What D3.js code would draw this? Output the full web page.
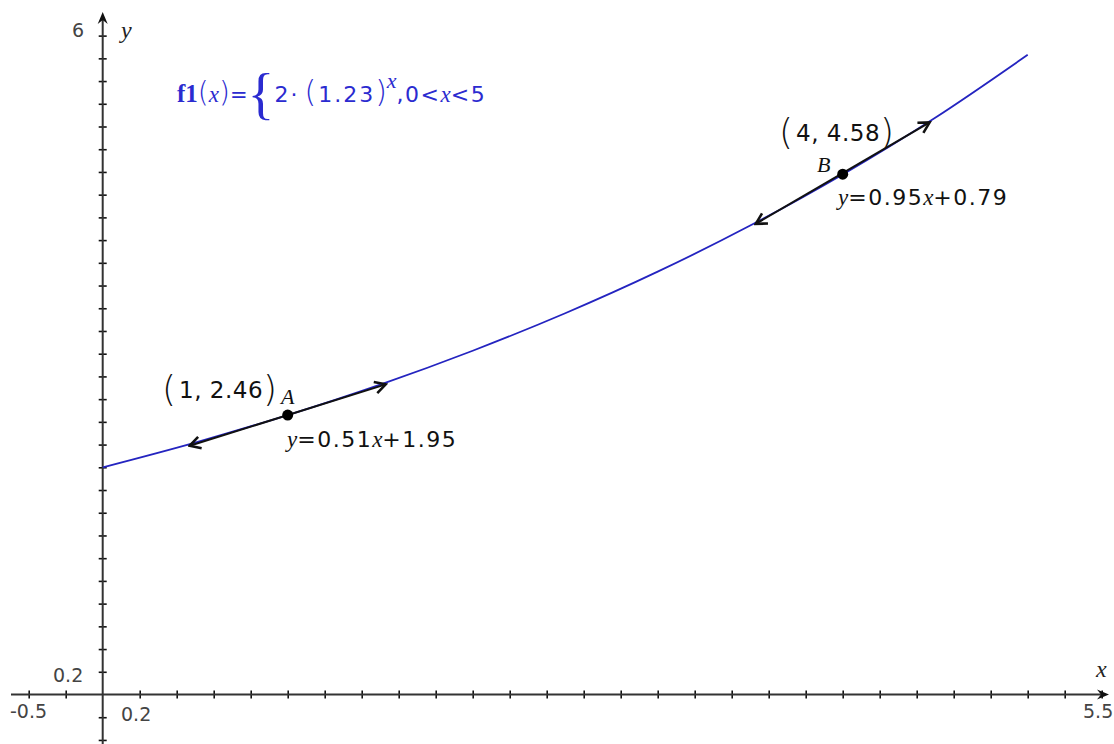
<!DOCTYPE html>
<html>
<head>
<meta charset="utf-8">
<script src="https://cdn.jsdelivr.net/npm/d3@7"></script>
<style>
  html, body { margin: 0; padding: 0; background: #fff; }
  svg { display: block; }
  .sans { font-family: "DejaVu Sans", sans-serif; }
  .serif { font-family: "Liberation Serif", "DejaVu Serif", serif; }
</style>
</head>
<body>
<svg id="chart" width="1114" height="744"></svg>
<script>
// ---------- data ----------
const xWindow = [-0.5, 5.5];
const yWindow = [0, 6];
const xTickLabels = ["-0.5", "0.2", "5.5"];
const yTickLabels = ["0.2", "6"];
const xTickValues = d3.range(-2, 28).map(i => +(i * 0.2).toFixed(1)).filter(v => v !== 0);
const yTickValues = d3.range(-2, 30).map(i => +(i * 0.2).toFixed(1)).filter(v => v !== 0);

// f1(x) = 2·(1.23)^x, 0<x<5
const curveX = [0, 0.5, 1, 1.5, 2, 2.5, 3, 3.5, 4, 4.5, 5];
const curveY = [2.000, 2.218, 2.460, 2.728, 3.026, 3.356, 3.722, 4.128, 4.578, 5.077, 5.631];

// tangent points
const pointNames = ["A", "B"];
const pointX = [1, 4];
const pointY = [2.46, 4.58];
const tangentSlope = [0.51, 0.95];
const tangentIntercept = [1.95, 0.79];
const tangentFrom = [0.47, 3.53];
const tangentTo = [1.53, 4.47];
const coordLabels = ["1, 2.46", "4, 4.58"];
const eqLabels = ["0.51x+1.95", "0.95x+0.79"];

// ---------- scales ----------
const svg = d3.select("#chart");
const x = d3.scaleLinear().domain(xWindow).range([10.2, 1120.2]);
const y = d3.scaleLinear().domain(yWindow).range([694.5, 12.9]);

const axisColor = "#333";
const blue = "#2424c0";
const textBlue = "#2b2bd0";

// ---------- axes ----------
const gx = svg.append("g").attr("transform", `translate(0,${y(0)})`)
  .call(d3.axisBottom(x).tickValues(xTickValues).tickSize(5).tickFormat(""));
gx.select(".domain").remove();
gx.selectAll(".tick line").attr("y1", -4).attr("y2", 4).attr("stroke", "#111").attr("stroke-width", 1.6);

const gy = svg.append("g").attr("transform", `translate(${x(0)},0)`)
  .call(d3.axisLeft(y).tickValues(yTickValues).tickSize(5).tickFormat(""));
gy.select(".domain").remove();
gy.selectAll(".tick line").attr("x1", -4).attr("x2", 4).attr("stroke", "#111").attr("stroke-width", 1.6);

// axis lines
svg.append("line").attr("x1", 11).attr("x2", 1104).attr("y1", y(0)).attr("y2", y(0))
  .attr("stroke", axisColor).attr("stroke-width", 2);
svg.append("line").attr("x1", x(0)).attr("x2", x(0)).attr("y1", 16).attr("y2", 744)
  .attr("stroke", axisColor).attr("stroke-width", 2);

// axis arrowheads
const ax0 = x(0), ay0 = y(0);
svg.append("path")
  .attr("d", `M${ax0},${12} L${ax0 + 5},${24} L${ax0},${20} L${ax0 - 5},${24} Z`)
  .attr("fill", "#111");
svg.append("path")
  .attr("d", `M${1109},${ay0} L${1097},${ay0 - 5} L${1101},${ay0} L${1097},${ay0 + 5} Z`)
  .attr("fill", "#111");

// axis labels
const lab = svg.append("g").attr("class", "sans").attr("fill", "#444").attr("font-size", 19);
lab.append("text").attr("x", 72).attr("y", 37).text(yTickLabels[1]);
lab.append("text").attr("x", 53).attr("y", 682).text(yTickLabels[0]);
lab.append("text").attr("x", 10).attr("y", 718).text(xTickLabels[0]);
lab.append("text").attr("x", 121).attr("y", 721).text(xTickLabels[1]);
lab.append("text").attr("x", 1083).attr("y", 718).text(xTickLabels[2]);
svg.append("text").attr("class", "serif").attr("font-style", "italic").attr("font-size", 24)
  .attr("fill", "#222").attr("x", 121).attr("y", 38).text("y");
svg.append("text").attr("class", "serif").attr("font-style", "italic").attr("font-size", 24)
  .attr("fill", "#222").attr("x", 1096).attr("y", 677).text("x");

// ---------- curve ----------
const curveData = curveX.map((v, i) => [v, curveY[i]]);
svg.append("path").datum(curveData)
  .attr("d", d3.line().x(d => x(d[0])).y(d => y(d[1])).curve(d3.curveMonotoneX))
  .attr("fill", "none").attr("stroke", blue).attr("stroke-width", 1.8);

// ---------- tangents ----------
const defs = svg.append("defs");
defs.append("marker").attr("id", "arr")
  .attr("viewBox", "0 0 14 14").attr("refX", 12).attr("refY", 7)
  .attr("markerWidth", 15).attr("markerHeight", 15).attr("markerUnits", "userSpaceOnUse")
  .attr("orient", "auto-start-reverse")
  .append("path").attr("d", "M2,1.5 L12,7 L2,12.5")
  .attr("fill", "none").attr("stroke", "#111").attr("stroke-width", 2.4)
  .attr("stroke-linejoin", "miter");

pointNames.forEach((name, i) => {
  const x1 = tangentFrom[i], x2 = tangentTo[i];
  const y1 = tangentSlope[i] * x1 + tangentIntercept[i];
  const y2 = tangentSlope[i] * x2 + tangentIntercept[i];
  svg.append("line")
    .attr("x1", x(x1)).attr("y1", y(y1)).attr("x2", x(x2)).attr("y2", y(y2))
    .attr("stroke", "#111").attr("stroke-width", 2)
    .attr("marker-start", "url(#arr)").attr("marker-end", "url(#arr)");
  svg.append("circle").attr("cx", x(pointX[i])).attr("cy", y(pointY[i])).attr("r", 5.5).attr("fill", "#000");
});

// ---------- labels ----------
const labelPos = [
  { cx: 162, cy: 398, nx: 281, ny: 404, ex: 287, ey: 447 },
  { cx: 779, cy: 141, nx: 817, ny: 172, ex: 838, ey: 205 }
];
pointNames.forEach((name, i) => {
  const p = labelPos[i];
  const t = svg.append("text").attr("class", "sans").attr("fill", "#111")
    .attr("x", p.cx).attr("y", p.cy);
  t.append("tspan").attr("font-size", 36).attr("font-weight", 200).attr("dy", 3).text("(");
  t.append("tspan").attr("font-size", 23).attr("letter-spacing", 0.5).attr("dy", -3).attr("dx", 3).text(coordLabels[i]);
  t.append("tspan").attr("font-size", 36).attr("font-weight", 200).attr("dy", 3).text(")");
  svg.append("text").attr("class", "serif").attr("font-style", "italic").attr("font-size", 22)
    .attr("fill", "#111").attr("x", p.nx).attr("y", p.ny).text(name);
  const e = svg.append("text").attr("fill", "#111").attr("x", p.ex).attr("y", p.ey).attr("font-size", 22);
  e.append("tspan").attr("class", "serif").attr("font-style", "italic").attr("font-size", 23).text("y");
  const parts = eqLabels[i].split("x");
  e.append("tspan").attr("class", "sans").attr("letter-spacing", 1.5).text("=" + parts[0]);
  e.append("tspan").attr("class", "serif").attr("font-style", "italic").attr("font-size", 23).text("x");
  e.append("tspan").attr("class", "sans").attr("letter-spacing", 1.5).text(parts[1]);
});

// ---------- formula ----------
const f = svg.append("text").attr("fill", textBlue).attr("x", 177).attr("y", 102).attr("font-size", 22);
f.append("tspan").attr("class", "serif").attr("font-weight", "bold").attr("font-size", 25).text("f1");
f.append("tspan").attr("class", "sans").attr("font-size", 28).attr("font-weight", 200).text("(");
f.append("tspan").attr("class", "serif").attr("font-style", "italic").attr("font-size", 23).text("x");
f.append("tspan").attr("class", "sans").attr("font-size", 28).attr("font-weight", 200).text(")");
f.append("tspan").attr("class", "sans").attr("font-size", 21).text("=");
f.append("tspan").attr("class", "serif").attr("font-size", 56).attr("dy", 11).text("{");
f.append("tspan").attr("class", "sans").attr("dy", -11).attr("letter-spacing", 2).text("2·");
f.append("tspan").attr("class", "sans").attr("dx", 5).attr("font-size", 30).attr("font-weight", 200).text("(");
f.append("tspan").attr("class", "sans").attr("letter-spacing", 2).attr("dx", 2).text("1.23");
f.append("tspan").attr("class", "sans").attr("font-size", 30).attr("font-weight", 200).text(")");
f.append("tspan").attr("class", "serif").attr("font-style", "italic").attr("font-size", 22).attr("dy", -14).text("x");
f.append("tspan").attr("class", "sans").attr("dy", 14).attr("letter-spacing", 1.5).text(",0<");
f.append("tspan").attr("class", "serif").attr("font-style", "italic").attr("font-size", 23).text("x");
f.append("tspan").attr("class", "sans").attr("letter-spacing", 1.5).text("<5");
</script>
</body>
</html>
